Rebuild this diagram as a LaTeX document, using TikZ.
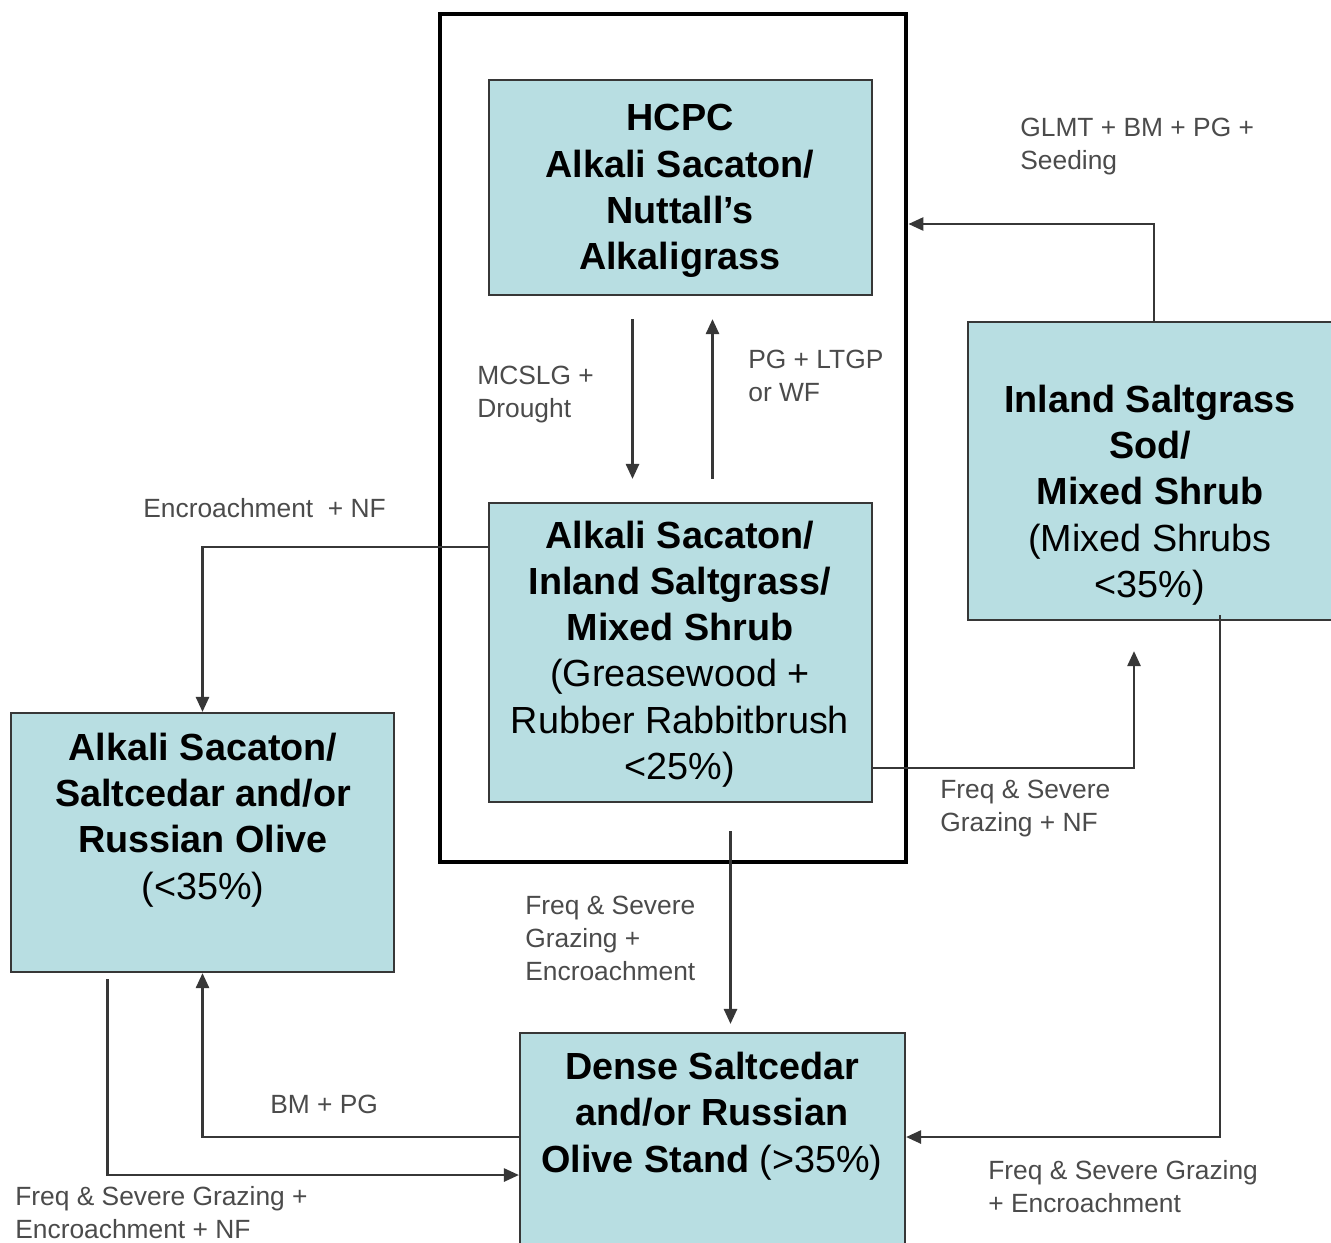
\documentclass[tikz,border=0pt]{standalone}
\usepackage{fontspec}
\setmainfont{Liberation Sans}
\usetikzlibrary{arrows.meta,fit,calc}
\definecolor{boxfill}{RGB}{184,222,226}
\definecolor{edge}{RGB}{55,55,55}
\definecolor{lbl}{RGB}{75,75,75}
\begin{document}
\begin{tikzpicture}[x=0.02cm,y=-0.02cm,
  state/.style={draw=edge, line width=1.3pt, fill=boxfill, inner sep=0pt, rectangle},
  frame/.style={draw=black, line width=2.8pt, inner sep=0pt, rectangle},
  stxt/.style={align=center, font=\fontsize{21.5}{26.3}\selectfont, text=black, inner sep=0pt},
  lab/.style={align=left, anchor=north west, font=\fontsize{15}{18.7}\selectfont, text=lbl, inner sep=0pt},
  conn/.style={draw=edge, line width=1.2pt, -{Triangle[length=8.5pt,width=7.5pt]}}]
\clip (0,0) rectangle (1331,1242);
\fill[white] (0,0) rectangle (1331,1242);

% boxes
\node[frame, fit={(440,14) (906,862)}] (outer) {};
\node[state, fit={(489,80) (872,295)}] (hcpc) {};
\node[state, fit={(489,503) (872,802)}] (mid) {};
\node[state, fit={(968,322) (1340,620)}] (inland) {};
\node[state, fit={(11,713) (394,972)}] (left) {};
\node[state, fit={(520,1033) (905,1260)}] (bottom) {};

% box texts
\node[stxt] (hcpcT) at (680,191) {\bfseries HCPC\\\bfseries Alkali Sacaton/\\\bfseries Nuttall’s\\\bfseries Alkaligrass};
\node[stxt] (midT) at (680,654) {\bfseries Alkali Sacaton/\\\bfseries Inland Saltgrass/\\\bfseries Mixed Shrub\\(Greasewood +\\Rubber Rabbitbrush\\<25\%)};
\node[stxt] (inlandT) at (1150,495) {\bfseries Inland Saltgrass\\\bfseries Sod/\\\bfseries Mixed Shrub\\(Mixed Shrubs\\<35\%)};
\node[stxt] (leftT) at (203,820) {\bfseries Alkali Sacaton/\\\bfseries Saltcedar and/or\\\bfseries Russian Olive\\(<35\%)};
\node[stxt] (bottomT) at (712,1116) {\bfseries Dense Saltcedar\\\bfseries and/or Russian\\\textbf{Olive Stand} (>35\%)};

% connectors
\draw[conn] ($(hcpc.south)+(-48,23)$) -- ($(mid.north)+(-48,-23)$);
\draw[conn] ($(mid.north)+(32,-23)$) -- ($(hcpc.south)+(32,23)$);
\draw[conn] (inland.north) |- (outer.east |- 0,224);
\draw[conn] (mid.west |- 0,547) -| (left.north);
\draw[conn] (mid.east |- 0,768) -| ($(inland.south)+(-20,30)$);
\draw[conn] ($(mid.south)+(50,28)$) -- ($(bottom.north)+(18,-8)$);
\draw[conn] (bottom.west |- 0,1137) -| (left.south);
\draw[conn] ($(left.south)+(-95,6)$) |- (bottom.west |- 0,1175);
\draw[conn] ($(inland.south)+(66,-6)$) |- (bottom.east |- 0,1137);

% labels
\node[lab] (l1) at (1020,118) {GLMT + BM + PG +\\Seeding};
\node[lab] (l2) at (477,366) {MCSLG +\\Drought};
\node[lab] (l3) at (748,350) {PG + LTGP\\or WF};
\node[lab] (l4) at (143,498) {Encroachment\ \ + NF};
\node[lab] (l5) at (940,780) {Freq \& Severe\\Grazing + NF};
\node[lab] (l6) at (525,896) {Freq \& Severe\\Grazing +\\Encroachment};
\node[lab] (l7) at (270,1095) {BM + PG};
\node[lab] (l8) at (988,1160) {Freq \& Severe Grazing\\+ Encroachment};
\node[lab] (l9) at (15,1186) {Freq \& Severe Grazing +\\Encroachment + NF};
\end{tikzpicture}
\end{document}
